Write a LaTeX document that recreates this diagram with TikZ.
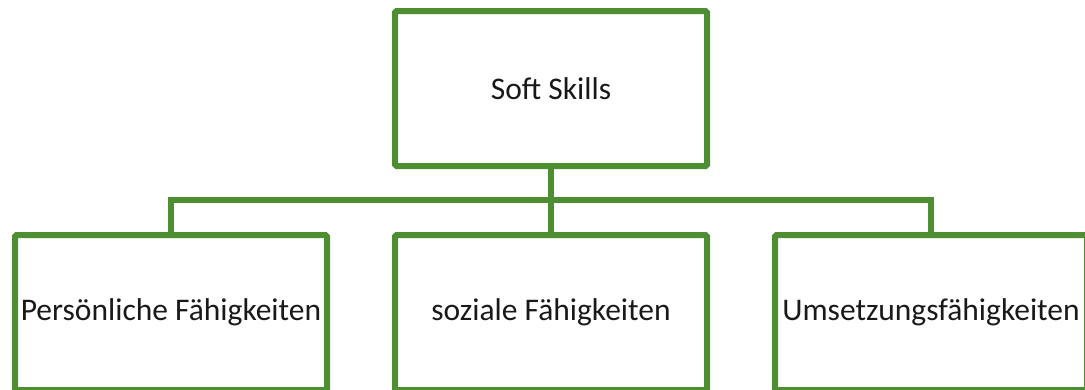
\documentclass[tikz,border=0pt]{standalone}
\usepackage{fontspec}
\setmainfont{Carlito}
\usepackage{tikz}
\usetikzlibrary{positioning}
\definecolor{skillgreen}{RGB}{78,142,51}

\begin{document}
\begin{tikzpicture}[
  x=1pt, y=-1pt,
  font=\fontsize{31.5}{36}\selectfont, node distance=62pt,
  skill/.style={draw=skillgreen, line width=6pt, rounded corners=1.5pt,
    minimum width=312pt, minimum height=155pt, inner sep=0pt, text=black!90},
  conn/.style={draw=skillgreen, line width=6pt}
]
\useasboundingbox (0,0) rectangle (1085,389);
\clip (0,0) rectangle (1085,389);
\node[skill] (root) at (551,88.5) {Soft Skills};
\node[skill, below=63pt of root] (soz) {soziale Fähigkeiten};
\node[skill, left=of soz] (pers) {Persönliche Fähigkeiten};
\node[skill, right=of soz] (ums) {Umsetzungsfähigkeiten};
% tree lines: stem down to the bar, then one branch per child
\draw[conn] (root.south) -- ([yshift=-31pt]root.south) coordinate (bar);
\draw[conn] (bar) -| (pers.north);
\draw[conn] (bar) -- (soz.north);
\draw[conn] (bar) -| (ums.north);
\end{tikzpicture}
\end{document}
